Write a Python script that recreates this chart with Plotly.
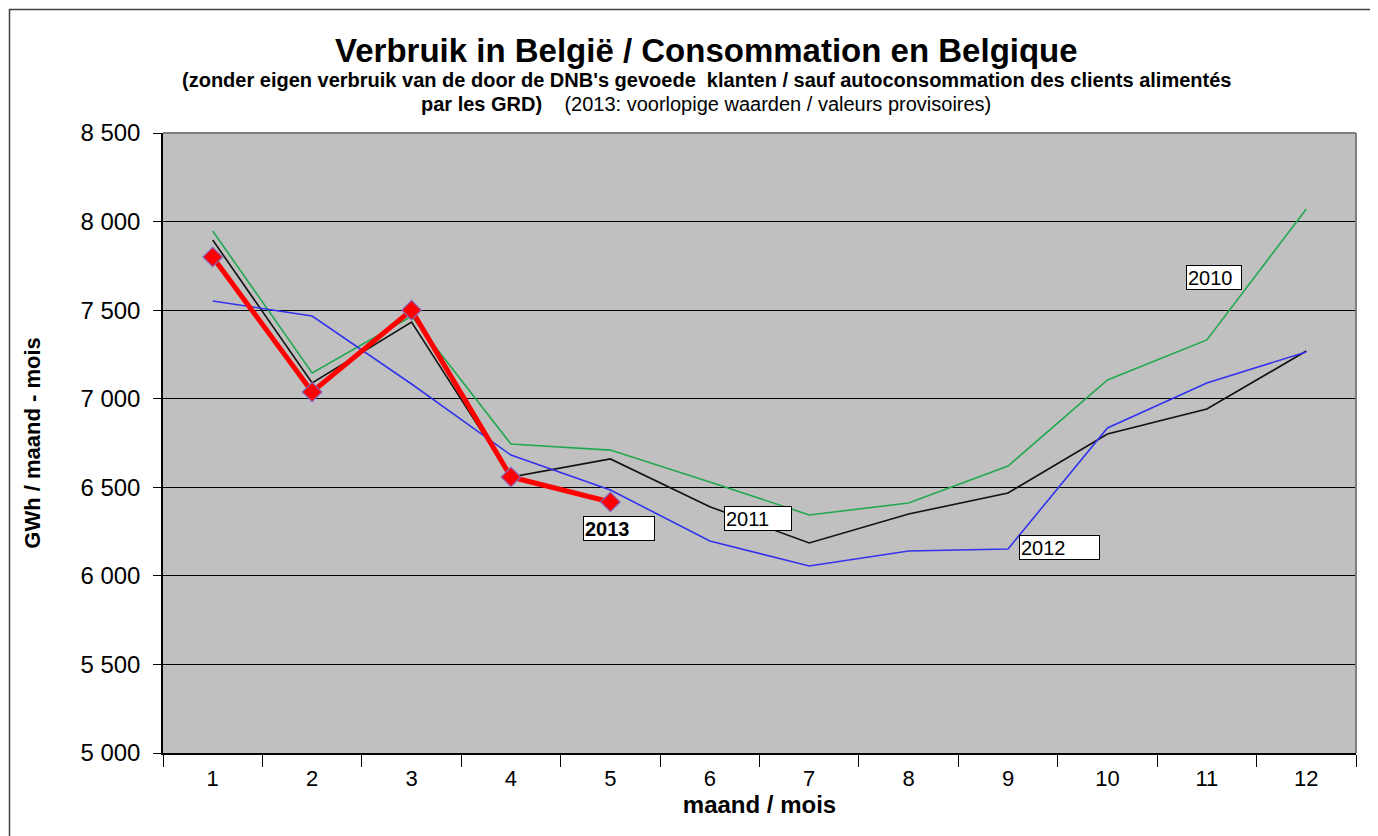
import plotly.graph_objects as go

months = ["1", "2", "3", "4", "5", "6", "7", "8", "9", "10", "11", "12"]
y2010 = [7947, 7145, 7465, 6744, 6710, 6530, 6344, 6411, 6620, 7106, 7332, 8071]
y2011 = [7896, 7089, 7433, 6558, 6660, 6390, 6186, 6349, 6468, 6801, 6942, 7269]
y2012 = [7552, 7467, 7083, 6682, 6485, 6197, 6056, 6140, 6152, 6835, 7089, 7264]
y2013 = [7800, 7038, 7500, 6558, 6417]
months2013 = months[:5]

yticks = [5000, 5500, 6000, 6500, 7000, 7500, 8000, 8500]
yticktext = ["5 000", "5 500", "6 000", "6 500", "7 000", "7 500", "8 000", "8 500"]

FONT = "Liberation Sans, Arial, sans-serif"

# page offset of the figure (default body margin)
OFF = 8
PL, PR, PT, PB = 163, 1356, 133, 753  # plot area in page pixels
PW, PH = PR - PL, PB - PT


def px(x):
    return (x - PL) / PW


def py(y):
    return (PB - y) / PH


fig = go.Figure()
fig.add_trace(go.Scatter(x=months, y=y2010, mode="lines", line=dict(color="#22a84e", width=1.6), name="2010"))
fig.add_trace(go.Scatter(x=months, y=y2011, mode="lines", line=dict(color="#111111", width=1.6), name="2011"))
fig.add_trace(go.Scatter(x=months, y=y2012, mode="lines", line=dict(color="#3333ee", width=1.6), name="2012"))
fig.add_trace(go.Scatter(x=months2013, y=y2013, mode="lines+markers",
                         line=dict(color="#ff0000", width=5),
                         marker=dict(symbol="diamond", size=15, color="#ff0000",
                                     line=dict(color="#8866bb", width=1.2)),
                         name="2013"))

fig.update_layout(
    width=1378 - OFF, height=836 - OFF,
    margin=dict(l=PL - OFF, r=1378 - PR, t=PT - OFF, b=836 - PB),
    paper_bgcolor="white", plot_bgcolor="#c0c0c0",
    showlegend=False,
    font=dict(family=FONT, color="black"),
)
fig.update_xaxes(
    type="category", range=[-0.5, 11.5],
    tickson="boundaries", ticks="outside", ticklen=12, tickcolor="black", tickwidth=1,
    showgrid=False, showline=True, linecolor="black", linewidth=1.5,
    tickfont=dict(size=22, family=FONT), ticklabelstandoff=5,
    title=dict(text="<b>maand / mois</b>", font=dict(size=24, family=FONT), standoff=6),
)
fig.update_yaxes(
    range=[5000, 8500], tickvals=yticks, ticktext=yticktext,
    ticks="outside", ticklen=8, tickcolor="black",
    showgrid=True, gridcolor="black", gridwidth=1.2,
    showline=True, linecolor="black", linewidth=1.5,
    tickfont=dict(size=24, family=FONT), ticklabelstandoff=8,
    title=dict(text="<b>GWh / maand - mois</b>", font=dict(size=22, family=FONT), standoff=34),
    zeroline=False,
)
# gray border on top and right of plot area
fig.add_shape(type="line", xref="paper", yref="paper", x0=0, x1=1, y0=1, y1=1,
              line=dict(color="#808080", width=2))
fig.add_shape(type="line", xref="paper", yref="paper", x0=1, x1=1, y0=0, y1=1,
              line=dict(color="#808080", width=2))
# outer frame
fig.add_shape(type="rect", xref="paper", yref="paper",
              x0=px(9.5), x1=px(1372), y0=py(845), y1=py(9.5),
              line=dict(color="#404040", width=1.5))

title_x = px(706)
fig.add_annotation(text="<b>Verbruik in België / Consommation en Belgique</b>",
                   xref="paper", yref="paper", x=title_x, y=py(50),
                   showarrow=False, font=dict(size=33, family=FONT), xanchor="center", yanchor="middle")
fig.add_annotation(text="<b>(zonder eigen verbruik van de door de DNB's gevoede  klanten / sauf autoconsommation des clients alimentés</b>",
                   xref="paper", yref="paper", x=title_x, y=py(80),
                   showarrow=False, font=dict(size=20, family=FONT), xanchor="center", yanchor="middle")
fig.add_annotation(text="<b>par les GRD)</b>    (2013: voorlopige waarden / valeurs provisoires)",
                   xref="paper", yref="paper", x=title_x, y=py(104),
                   showarrow=False, font=dict(size=20, family=FONT), xanchor="center", yanchor="middle")

labels = [
    ("<b>2013</b>", 4.087, 6267, 68),
    ("2011", 5.485, 6324, 64),
    ("2012", 8.517, 6160, 77),
    ("2010", 10.071, 7684, 52),
]
for txt, xx, yy, w in labels:
    fig.add_annotation(text=txt, x=xx, y=yy, xref="x", yref="y", showarrow=False,
                       font=dict(size=20, family=FONT, color="black"),
                       bgcolor="white", bordercolor="black", borderwidth=1, borderpad=1,
                       width=w, height=21, align="left", xanchor="center", yanchor="middle")

fig.write_html("out.html")
